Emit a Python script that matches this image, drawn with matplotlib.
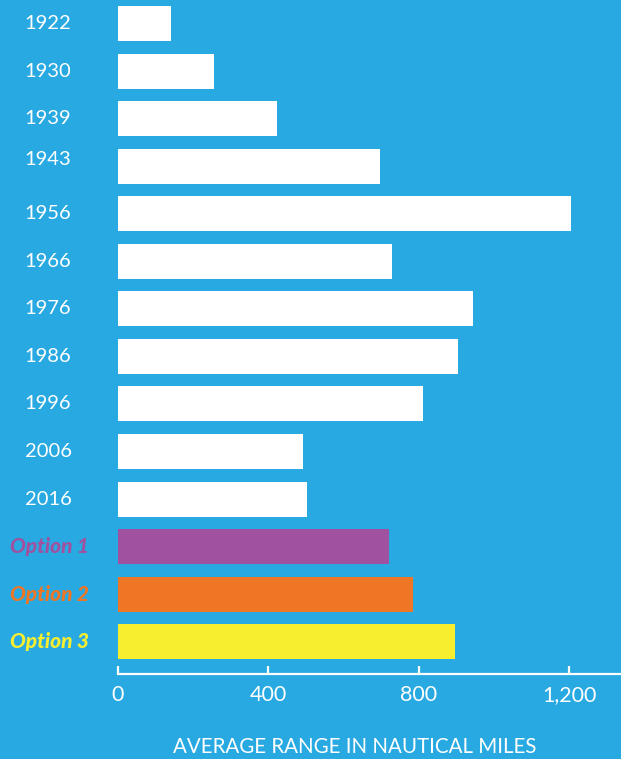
import matplotlib
matplotlib.use("Agg")
import matplotlib.pyplot as plt

categories = ["1922", "1930", "1939", "1943", "1956", "1966", "1976", "1986",
              "1996", "2006", "2016", "Option 1", "Option 2", "Option 3"]
values = [140, 255, 422, 697, 1205, 728, 944, 904, 811, 492, 502, 720, 784, 896]
bar_colors = ["#FFFFFF"] * 11 + ["#A0519F", "#EE7625", "#F8EE30"]
label_colors = ["#FFFFFF"] * 11 + ["#A0519F", "#EE7625", "#F8EE30"]
xticks = [0, 400, 800, 1200]
xtick_labels = ["0", "400", "800", "1,200"]
xlabel = "AVERAGE RANGE IN NAUTICAL MILES"

BG = "#28A9E1"
W, H = 621, 759
fig = plt.figure(figsize=(W / 100, H / 100), dpi=100, facecolor=BG)
ax = fig.add_axes([118 / W, (H - 674) / H, (W - 118) / W, 674 / H])
ax.set_facecolor(BG)

pos = list(range(len(categories)))
ax.barh(pos, values, height=0.736, color=bar_colors, linewidth=0)
ax.set_xlim(0, (W - 118) / 0.3762)
ax.set_ylim(13.68, -0.494)

for s in ["top", "right", "left"]:
    ax.spines[s].set_visible(False)
ax.spines["bottom"].set_color("white")
ax.spines["bottom"].set_linewidth(1.6)
ax.set_yticks([])
ax.set_xticks(xticks)
ax.set_xticklabels(xtick_labels)
ax.tick_params(axis="x", direction="in", length=6, width=1.6, colors="white",
               labelsize=15.5, pad=8)
for t in ax.get_xticklabels():
    t.set_fontfamily("Lato")

tr = ax.get_yaxis_transform()
for i, (c, col) in enumerate(zip(categories, label_colors)):
    if c.startswith("Option"):
        ax.text(-0.136, i, c, transform=tr, ha="center", va="center", color=col,
                fontsize=15, fontweight=900, fontstyle="italic", family="Lato")
    else:
        dy = -0.15 if c == "1943" else 0.0
        ax.text(-0.139, i + dy, c, transform=tr, ha="center", va="center", color=col,
                fontsize=14.5, family="Lato")

fig.text(355 / W, 1 - 747 / H, xlabel, ha="center", va="center", color="white",
         fontsize=14.8, family="Lato")

fig.savefig("out.png", dpi=100, facecolor=BG)
